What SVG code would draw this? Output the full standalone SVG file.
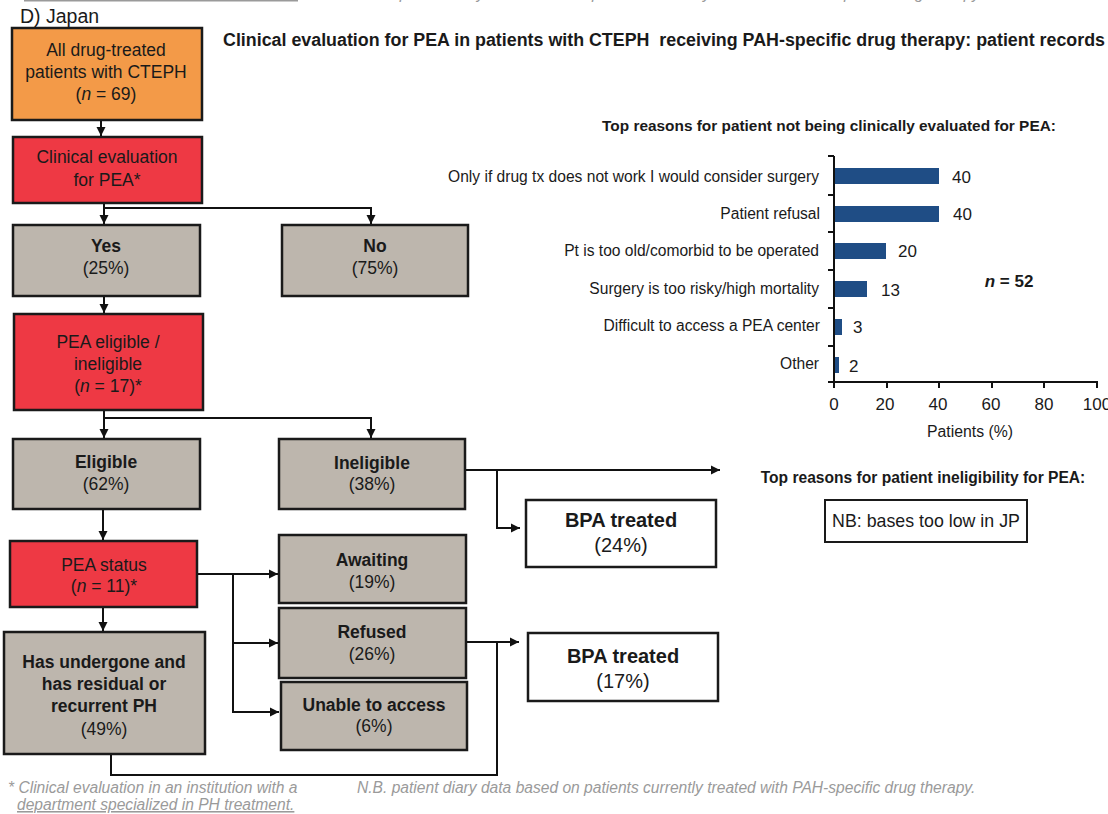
<svg xmlns="http://www.w3.org/2000/svg" width="1108" height="814" viewBox="0 0 1108 814">
<defs>
<marker id="ah" markerUnits="userSpaceOnUse" markerWidth="10" markerHeight="10" refX="9" refY="5" orient="auto">
<path d="M0,0.5 L9,5 L0,9.5 z" fill="#111"/>
</marker>
<style>
text{font-family:"Liberation Sans",Arial,sans-serif;fill:#1a1a1a}
.box{stroke:#1a1a1a;stroke-width:2.5}
.or{fill:#F39A48}
.rd{fill:#EE3944}
.gy{fill:#BDB6AD}
.wh{fill:#fff}
.t{font-size:17.5px;text-anchor:middle}
.bp{font-size:20px;text-anchor:middle}
.b{font-weight:bold}
.c line,.c path{stroke:#111;stroke-width:2;fill:none}
.ft{font-size:15.6px;font-style:italic;fill:#9a9a9a}
.cl{font-size:15.6px;text-anchor:end}
.vl{font-size:17px}
.tk{font-size:17px;text-anchor:middle}
.bar{fill:#1F4D85}
</style>
</defs>
<rect width="1108" height="814" fill="#fff"/>
<line x1="24" y1="0.5" x2="298" y2="0.5" stroke="#9a9a9a" stroke-width="2"/>
<text x="365" y="-1" class="ft">N.B. patient diary data based on patients currently treated with PAH-specific drug therapy.</text>
<text x="20" y="23" style="font-size:19.5px">D) Japan</text>
<text x="223" y="46" class="b" style="font-size:17.5px" xml:space="preserve" textLength="882" lengthAdjust="spacingAndGlyphs">Clinical evaluation for PEA in patients with CTEPH  receiving PAH-specific drug therapy: patient records</text>

<g id="n_all"><rect class="box or" x="12" y="28" width="190" height="92"/>
<text class="t" x="106" y="56">All drug-treated</text><text class="t" x="106" y="78">patients with CTEPH</text><text class="t" x="106" y="100">(<tspan font-style="italic">n</tspan> = 69)</text></g>
<g id="n_clin"><rect class="box rd" x="13" y="137" width="189" height="66"/>
<text class="t" x="107" y="163">Clinical evaluation</text><text class="t" x="107" y="186">for PEA*</text></g>
<g id="n_yes"><rect class="box gy" x="13" y="225" width="187" height="71"/>
<text class="t b" x="106" y="252">Yes</text><text class="t" x="106" y="274">(25%)</text></g>
<g id="n_no"><rect class="box gy" x="282" y="225" width="186" height="71"/>
<text class="t b" x="375" y="252">No</text><text class="t" x="375" y="274">(75%)</text></g>
<g id="n_elig"><rect class="box rd" x="14" y="314" width="189" height="96"/>
<text class="t" x="108" y="348">PEA eligible /</text><text class="t" x="108" y="370">ineligible</text><text class="t" x="108" y="392">(<tspan font-style="italic">n</tspan> = 17)*</text></g>
<g id="n_eligible"><rect class="box gy" x="13" y="439" width="187" height="70"/>
<text class="t b" x="106" y="468">Eligible</text><text class="t" x="106" y="490">(62%)</text></g>
<g id="n_inelig"><rect class="box gy" x="279" y="439" width="186" height="70"/>
<text class="t b" x="372" y="469">Ineligible</text><text class="t" x="372" y="490">(38%)</text></g>
<g id="n_bpa24"><rect class="box wh" x="526" y="500" width="190" height="67"/>
<text class="bp b" x="621" y="527">BPA treated</text><text class="bp" x="621" y="552">(24%)</text></g>
<g id="n_status"><rect class="box rd" x="10" y="541" width="187" height="66"/>
<text class="t" x="104" y="571">PEA status</text><text class="t" x="104" y="592">(<tspan font-style="italic">n</tspan> = 11)*</text></g>
<g id="n_await"><rect class="box gy" x="279" y="535" width="187" height="68"/>
<text class="t b" x="372" y="566">Awaiting</text><text class="t" x="372" y="588">(19%)</text></g>
<g id="n_refused"><rect class="box gy" x="279" y="608" width="187" height="70"/>
<text class="t b" x="372" y="638">Refused</text><text class="t" x="372" y="660">(26%)</text></g>
<g id="n_unable"><rect class="box gy" x="281" y="682" width="186" height="68"/>
<text class="t b" x="374" y="711">Unable to access</text><text class="t" x="374" y="732">(6%)</text></g>
<g id="n_bpa17"><rect class="box wh" x="528" y="633" width="190" height="68"/>
<text class="bp b" x="623" y="663">BPA treated</text><text class="bp" x="623" y="688">(17%)</text></g>
<g id="n_undergone"><rect class="box gy" x="4" y="632" width="201" height="122"/>
<text class="t b" x="104" y="668">Has undergone and</text><text class="t b" x="104" y="690">has residual or</text><text class="t b" x="104" y="712">recurrent PH</text><text class="t" x="104" y="735">(49%)</text></g>

<g id="connectors" class="c">
<path d="M101,121 V136" marker-end="url(#ah)"/>
<path d="M104,204 V208 H371 V224" marker-end="url(#ah)"/>
<path d="M104,208 V224" marker-end="url(#ah)"/>
<path d="M104,297 V313" marker-end="url(#ah)"/>
<path d="M104,411 V418 H371 V438" marker-end="url(#ah)"/>
<path d="M104,418 V438" marker-end="url(#ah)"/>
<path d="M466,470 H720" marker-end="url(#ah)"/>
<path d="M497,470 V528 H520" marker-end="url(#ah)"/>
<path d="M103,510 V540" marker-end="url(#ah)"/>
<path d="M198,574 H278" marker-end="url(#ah)"/>
<path d="M233,574 V712 H279" marker-end="url(#ah)"/>
<path d="M233,643 H278" marker-end="url(#ah)"/>
<path d="M467,642 H519" marker-end="url(#ah)"/>
<path d="M103,608 V631" marker-end="url(#ah)"/>
<path d="M111,755 V775 H497 V642"/>
</g>

<g id="chart1">
<text x="829" y="131" class="b" style="font-size:15.4px;text-anchor:middle">Top reasons for patient not being clinically evaluated for PEA:</text>
<g class="c">
<line x1="834" y1="156" x2="834" y2="383"/>
<line x1="828" y1="382" x2="1098" y2="382"/>
<line x1="828" y1="156" x2="834" y2="156"/>
<line x1="828" y1="195" x2="834" y2="195"/>
<line x1="828" y1="232" x2="834" y2="232"/>
<line x1="828" y1="270" x2="834" y2="270"/>
<line x1="828" y1="308" x2="834" y2="308"/>
<line x1="828" y1="346" x2="834" y2="346"/>
<line x1="834" y1="382" x2="834" y2="388"/>
<line x1="887" y1="382" x2="887" y2="388"/>
<line x1="939" y1="382" x2="939" y2="388"/>
<line x1="992" y1="382" x2="992" y2="388"/>
<line x1="1044" y1="382" x2="1044" y2="388"/>
<line x1="1097" y1="382" x2="1097" y2="388"/>
</g>
<rect class="bar" x="835" y="168" width="104" height="16"/>
<rect class="bar" x="835" y="206" width="104" height="16"/>
<rect class="bar" x="835" y="243" width="51" height="16"/>
<rect class="bar" x="835" y="281" width="32" height="16"/>
<rect class="bar" x="835" y="319" width="7" height="16"/>
<rect class="bar" x="835" y="357" width="4" height="16"/>
<text class="cl" x="819" y="182">Only if drug tx does not work I would consider surgery</text>
<text class="cl" x="820" y="219">Patient refusal</text>
<text class="cl" x="819" y="256">Pt is too old/comorbid to be operated</text>
<text class="cl" x="819" y="294">Surgery is too risky/high mortality</text>
<text class="cl" x="820" y="331">Difficult to access a PEA center</text>
<text class="cl" x="819" y="369">Other</text>
<text class="vl" x="952" y="183">40</text>
<text class="vl" x="953" y="220">40</text>
<text class="vl" x="898" y="257">20</text>
<text class="vl" x="881" y="296">13</text>
<text class="vl" x="853" y="333">3</text>
<text class="vl" x="849" y="372">2</text>
<text class="tk" x="834" y="410">0</text>
<text class="tk" x="885" y="410">20</text>
<text class="tk" x="938" y="410">40</text>
<text class="tk" x="991" y="410">60</text>
<text class="tk" x="1044" y="410">80</text>
<text class="tk" x="1097" y="410">100</text>
<text x="970" y="437" style="font-size:15.8px;text-anchor:middle">Patients (%)</text>
<text x="1009" y="287" class="b" style="font-size:17px;text-anchor:middle"><tspan font-style="italic">n</tspan> = 52</text>
</g>

<g id="chart2">
<text x="923" y="483" class="b" style="font-size:15.6px;text-anchor:middle">Top reasons for patient ineligibility for PEA:</text>
<rect x="825" y="500" width="202" height="42" fill="#fff" stroke="#1a1a1a" stroke-width="2"/>
<text x="926" y="527" style="font-size:17.8px;text-anchor:middle">NB: bases too low in JP</text>
</g>

<text x="8" y="793" class="ft">* Clinical evaluation in an institution with a</text>
<text x="17" y="810" class="ft" text-decoration="underline">department specialized in PH treatment.</text>
<text x="357" y="793" class="ft">N.B. patient diary data based on patients currently treated with PAH-specific drug therapy.</text>
</svg>
